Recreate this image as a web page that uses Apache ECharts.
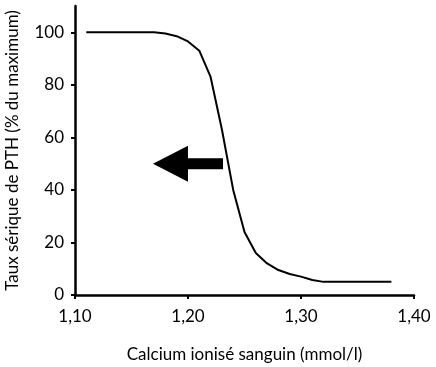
<!DOCTYPE html>
<html><head><meta charset="utf-8">
<script src="https://cdn.jsdelivr.net/npm/echarts@6/dist/echarts.min.js"></script>
<style>html,body{margin:0;padding:0;background:#fff}#c{width:436px;height:367px}</style>
</head><body><div id="c"></div>
<script>
var calcium = [1.11, 1.17, 1.18, 1.19, 1.20, 1.21, 1.22, 1.23, 1.24, 1.25, 1.26, 1.27, 1.28, 1.29, 1.30, 1.31, 1.32, 1.38];
var pth     = [100, 100, 99.5, 98.5, 96.5, 93, 83, 63, 40, 24, 16, 12, 9.5, 8, 7, 5.7, 5, 5];
var xTicks = [1.10, 1.20, 1.30, 1.40];
var yTicks = [0, 20, 40, 60, 80, 100];
var arrowTail = [1.231, 50];
var arrowTip  = [1.169, 50];
var xTitle = 'Calcium ionisé sanguin (mmol/l)';
var yTitle = 'Taux sérique de PTH (% du maximum)';

var font = 'Lato';
var chart = echarts.init(document.getElementById('c'));
var axisStyle = {show:true, onZero:false, lineStyle:{color:'#000', width:2.5}};
chart.setOption({
  animation:false,
  grid:{left:75, right:22, top:6, bottom:72, containLabel:false, outerBoundsMode:'none'},
  xAxis:{type:'value', min:1.1, max:1.4, interval:0.1,
    name:xTitle, nameLocation:'middle', nameGap:51,
    nameTextStyle:{color:'#000', fontFamily:font, fontSize:17},
    axisLine:axisStyle,
    axisTick:{show:true, inside:false, length:4, lineStyle:{color:'#000', width:2}, customValues:xTicks},
    axisLabel:{color:'#000', fontFamily:font, fontSize:17, margin:13, customValues:xTicks,
      formatter:function(v){return v.toFixed(2).replace('.', ',');}},
    splitLine:{show:false}},
  yAxis:{type:'value', min:0, max:110, interval:20,
    name:yTitle, nameLocation:'middle', nameGap:54, nameRotate:90,
    nameTextStyle:{color:'#000', fontFamily:font, fontSize:17},
    axisLine:axisStyle,
    axisTick:{show:true, inside:false, length:4, lineStyle:{color:'#000', width:2}, customValues:yTicks},
    axisLabel:{color:'#000', fontFamily:font, fontSize:17, margin:11, customValues:yTicks},
    splitLine:{show:false}},
  series:[
    {type:'line', data:calcium.map(function(x,i){return [x, pth[i]];}),
     symbol:'none', lineStyle:{color:'#000', width:2}, smooth:false},
    {type:'custom', data:[[arrowTail[0], arrowTail[1], arrowTip[0], arrowTip[1]]],
     renderItem:function(params, api){
       var a = api.coord([api.value(0), api.value(1)]);
       var b = api.coord([api.value(2), api.value(3)]);
       var headLen = 35, headHalf = 18, shaftHalf = 5.5;
       var hx = b[0] + headLen;
       return {type:'polygon', shape:{points:[
         [a[0], a[1]-shaftHalf], [hx, a[1]-shaftHalf], [hx, a[1]-headHalf], [b[0], b[1]],
         [hx, a[1]+headHalf], [hx, a[1]+shaftHalf], [a[0], a[1]+shaftHalf]]},
         style:{fill:'#000'}};
     }}
  ]
});
</script></body></html>
